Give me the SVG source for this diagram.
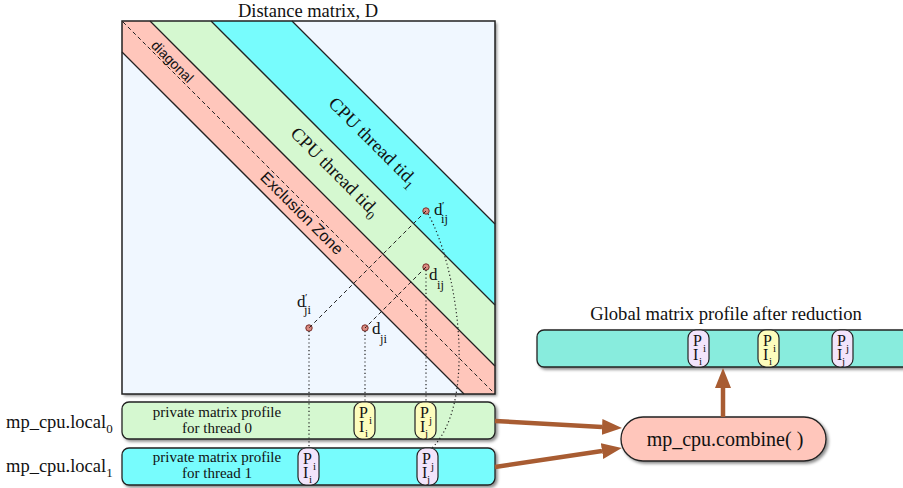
<svg xmlns="http://www.w3.org/2000/svg" width="903" height="488" viewBox="0 0 903 488">
  <defs>
    <filter id="shadow" x="-5%" y="-5%" width="115%" height="130%">
      <feDropShadow dx="2" dy="2" stdDeviation="1.4" flood-color="#000" flood-opacity="0.45"/>
    </filter>
    <marker id="arrow" markerUnits="userSpaceOnUse" viewBox="0 0 20 16" markerWidth="20" markerHeight="16" refX="0" refY="8" orient="auto">
      <path d="M0,0 L20,8 L0,16 z" fill="#a85c32"/>
    </marker>
  </defs>
  <style>
    .serif { font-family: "Liberation Serif", "Times New Roman", serif; fill: #111; }
    .sans { font-family: "Liberation Sans", Arial, sans-serif; fill: #111; }
    .edge { stroke: #222; stroke-width: 1.3; fill: none; }
    .dash { stroke: #222; stroke-width: 1; stroke-dasharray: 4 3; fill: none; }
    .dot { stroke: #222; stroke-width: 1.2; stroke-dasharray: 1.2 2.6; fill: none; }
    .flow { stroke: #a85c32; stroke-width: 4.5; fill: none; marker-end: url(#arrow); }
    .bar { stroke: #222; stroke-width: 1.3; }
    .pt { fill: #d98a80; stroke: #7a2e2a; stroke-width: 1; }
    .cell { stroke: #222; stroke-width: 1.2; }
    .yellow { fill: #fdfdbd; }
    .lav { fill: #f2e4fb; }
    .pi { font-family: "Liberation Serif", "Times New Roman", serif; font-size: 16px; fill: #111; }
    .sb { font-size: 11px; }
  </style>

  <!-- distance matrix with thread bands -->
  <g id="matrix">
    <text class="serif" x="308" y="17" font-size="18.5" text-anchor="middle">Distance matrix, D</text>
    <rect x="122" y="21" width="373" height="373" fill="#f0f7ff" filter="url(#shadow)"/>
    <polygon points="122,52 122,21 150,21 495,366 495,394 464,394" fill="#ffc6bb"/>
    <polygon points="150,21 211,21 495,305 495,366" fill="#d5f8d0"/>
    <polygon points="211,21 292,21 495,224 495,305" fill="#77fcfd"/>
    <line class="edge" x1="122" y1="52" x2="464" y2="394"/>
    <line class="edge" x1="150" y1="21" x2="495" y2="366"/>
    <line class="edge" x1="211" y1="21" x2="495" y2="305"/>
    <line class="edge" x1="292" y1="21" x2="495" y2="224"/>
    <line class="dash" x1="123" y1="22" x2="495" y2="394"/>
    <rect x="122" y="21" width="373" height="373" fill="none" stroke="#222" stroke-width="1.5"/>
    <text class="sans" font-size="14" text-anchor="middle" transform="translate(169,65) rotate(45)">diagonal</text>
    <text class="sans" font-size="16" text-anchor="middle" transform="translate(298,217) rotate(45)">Exclusion Zone</text>
    <text class="serif" font-size="18.5" text-anchor="middle" transform="translate(331,176) rotate(45)">CPU thread tid<tspan font-size="13" dy="5">0</tspan></text>
    <text class="serif" font-size="18.5" text-anchor="middle" transform="translate(369,146) rotate(45)">CPU thread tid<tspan font-size="13" dy="5">1</tspan></text>
  </g>

  <!-- sample distances -->
  <g id="points">
    <circle class="pt" cx="426" cy="211" r="3.2"/>
    <circle class="pt" cx="426" cy="267" r="3.2"/>
    <circle class="pt" cx="309" cy="328" r="3.2"/>
    <circle class="pt" cx="365" cy="328" r="3.2"/>
    <text class="serif" font-size="17" x="434" y="215">d<tspan x="442" y="209" font-size="11">′</tspan><tspan x="441" y="223" font-size="12.5">ij</tspan></text>
    <text class="serif" font-size="17" x="429" y="280">d<tspan x="437" y="289" font-size="12.5">ij</tspan></text>
    <text class="serif" font-size="17" x="297" y="307">d<tspan x="305" y="301" font-size="11">′</tspan><tspan x="304" y="314" font-size="12.5">ji</tspan></text>
    <text class="serif" font-size="17" x="372" y="334">d<tspan x="380" y="343" font-size="12.5">ji</tspan></text>
  </g>

  <!-- per-thread private profiles -->
  <g id="local0">
    <text class="serif" font-size="18.5" x="6" y="428">mp_cpu.local<tspan font-size="13" dy="5">0</tspan></text>
    <rect class="bar" x="122" y="402" width="373" height="37" rx="7" fill="#d5f8d0" filter="url(#shadow)"/>
    <text class="serif" font-size="15" x="217" y="417" text-anchor="middle">private matrix profile</text>
    <text class="serif" font-size="15" x="217" y="433" text-anchor="middle">for thread 0</text>
    <g id="local0-pi">
      <rect class="cell yellow" x="354" y="402" width="21" height="37" rx="8"/>
      <text class="pi"><tspan x="359" y="418">P</tspan><tspan class="sb" x="369" y="424">i</tspan><tspan x="359" y="432">I</tspan><tspan class="sb" x="365" y="437">i</tspan></text>
    </g>
    <g id="local0-pj">
      <rect class="cell yellow" x="415" y="402" width="21" height="37" rx="8"/>
      <text class="pi"><tspan x="420" y="418">P</tspan><tspan class="sb" x="429" y="424">j</tspan><tspan x="420" y="432">I</tspan><tspan class="sb" x="425" y="437">j</tspan></text>
    </g>
  </g>

  <g id="local1">
    <text class="serif" font-size="18.5" x="6" y="472">mp_cpu.local<tspan font-size="13" dy="5">1</tspan></text>
    <rect class="bar" x="122" y="448" width="373" height="37" rx="7" fill="#77fcfd" filter="url(#shadow)"/>
    <text class="serif" font-size="15" x="217" y="462" text-anchor="middle">private matrix profile</text>
    <text class="serif" font-size="15" x="217" y="478" text-anchor="middle">for thread 1</text>
    <g id="local1-pi">
      <rect class="cell lav" x="298" y="448" width="21" height="37" rx="8"/>
      <text class="pi"><tspan x="303" y="464">P</tspan><tspan class="sb" x="313" y="470">i</tspan><tspan x="303" y="478">I</tspan><tspan class="sb" x="309" y="483">i</tspan></text>
    </g>
    <g id="local1-pj">
      <rect class="cell lav" x="417" y="448" width="21" height="37" rx="8"/>
      <text class="pi"><tspan x="422" y="464">P</tspan><tspan class="sb" x="431" y="470">j</tspan><tspan x="422" y="478">I</tspan><tspan class="sb" x="427" y="483">j</tspan></text>
    </g>
  </g>

  <!-- reduction -->
  <g id="combine">
    <rect class="bar" x="621" y="417" width="205" height="44" rx="22" fill="#ffc6bb" filter="url(#shadow)"/>
    <text class="serif" font-size="20" x="725" y="446" text-anchor="middle">mp_cpu.combine( )</text>
  </g>

  <g id="global">
    <text class="serif" font-size="18.6" x="726" y="320" text-anchor="middle">Global matrix profile after reduction</text>
    <rect class="bar" x="537" y="330" width="390" height="37" rx="7" fill="#88ecdd" filter="url(#shadow)"/>
    <g id="global-pi-a">
      <rect class="cell lav" x="688" y="330" width="21" height="37" rx="8"/>
      <text class="pi"><tspan x="693" y="346">P</tspan><tspan class="sb" x="703" y="352">i</tspan><tspan x="693" y="360">I</tspan><tspan class="sb" x="699" y="365">i</tspan></text>
    </g>
    <g id="global-pi-b">
      <rect class="cell yellow" x="758" y="330" width="21" height="37" rx="8"/>
      <text class="pi"><tspan x="763" y="346">P</tspan><tspan class="sb" x="773" y="352">i</tspan><tspan x="763" y="360">I</tspan><tspan class="sb" x="769" y="365">i</tspan></text>
    </g>
    <g id="global-pj">
      <rect class="cell lav" x="832" y="330" width="21" height="37" rx="8"/>
      <text class="pi"><tspan x="837" y="346">P</tspan><tspan class="sb" x="846" y="352">j</tspan><tspan x="837" y="360">I</tspan><tspan class="sb" x="842" y="365">j</tspan></text>
    </g>
  </g>

  <!-- connectors -->
  <g id="connectors">
    <line class="dash" x1="426" y1="211" x2="309" y2="328"/>
    <line class="dash" x1="426" y1="267" x2="365" y2="328"/>
    <line class="dot" x1="309" y1="331" x2="309" y2="448"/>
    <line class="dot" x1="365" y1="331" x2="365" y2="402"/>
    <line class="dot" x1="426" y1="270" x2="426" y2="402"/>
    <path class="dot" d="M428,214 C455,260 480,400 432,448"/>
    <line class="flow" x1="495" y1="421" x2="602" y2="427"/>
    <line class="flow" x1="495" y1="467" x2="602" y2="451"/>
    <line class="flow" x1="723" y1="417" x2="723" y2="388"/>
  </g>
</svg>
